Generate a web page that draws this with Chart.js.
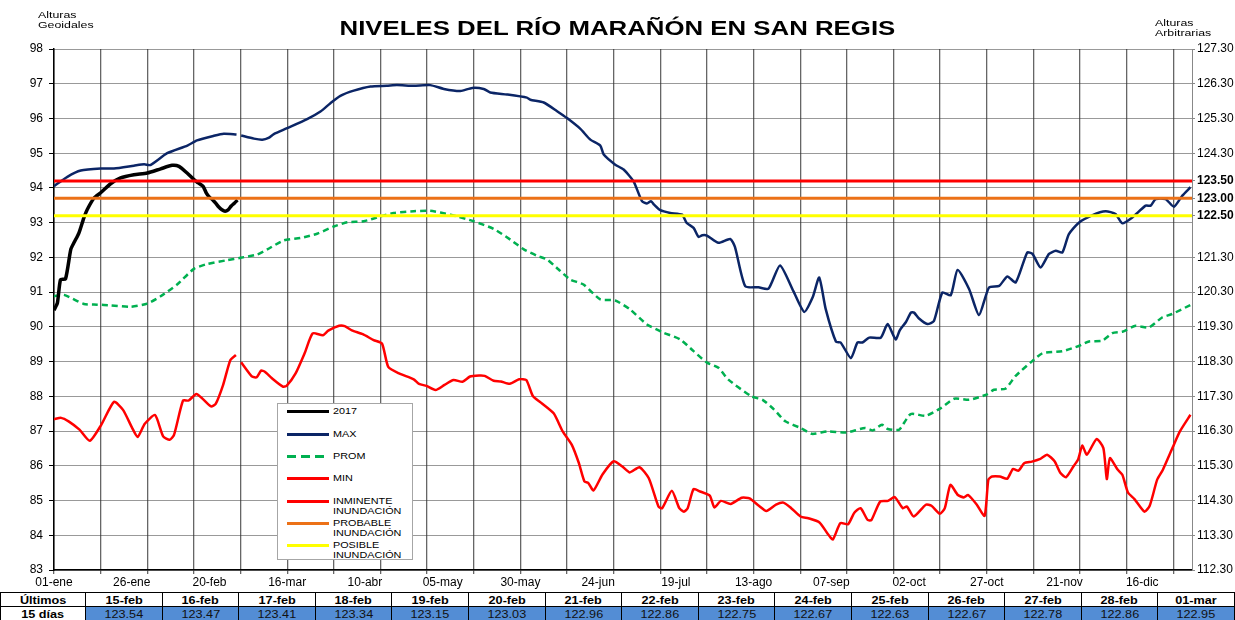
<!DOCTYPE html>
<html>
<head>
<meta charset="utf-8">
<script src="https://cdn.jsdelivr.net/npm/chart.js@4.4.0/dist/chart.umd.min.js"></script>
<style>
    body { margin: 0; background: #fff; font-family: "Liberation Sans", Arial, sans-serif; }
    #wrap { position: relative; width: 1235px; height: 620px; overflow: hidden; }
    #chart { position: absolute; left: 0; top: 0; }
    .note { position: absolute; font-size: 9.5px; line-height: 9.5px; transform: scaleX(1.3); transform-origin: left top; }
    #title { position: absolute; left: 0; top: 17px; width: 1235px; text-align: center; }
    #title span { display: inline-block; font-weight: bold; font-size: 20px; transform: scaleX(1.29); }
    #legend { position: absolute; left: 277px; top: 403px; width: 136px; height: 157px; background: #fff; border: 1px solid #a6a6a6; box-sizing: border-box; }
    .item { position: absolute; left: 9px; }
    .item i { position: absolute; left: 0; top: 0; width: 42px; height: 3px; }
    .item span { position: absolute; left: 46px; top: -3px; font-size: 9px; line-height: 9.5px; white-space: nowrap; transform: scaleX(1.2); transform-origin: left top; }
    table { position: absolute; left: 0; top: 592px; width: 1235px; border-collapse: collapse; table-layout: fixed; }
    td { border: 1px solid #000; height: 13px; padding: 0; text-align: center; font-size: 11px; line-height: 12px; overflow: hidden; }
    td span { display: inline-block; transform: scaleX(1.15); }
    tr.head td { font-weight: bold; }
    tr.vals td.v { background: #538dd5; color: #111; }
    tr.vals td.lab { font-weight: bold; }
</style>
</head>
<body>
<div id="wrap">
    <canvas id="chart" width="1235" height="592"></canvas>
    <div id="title"><span>NIVELES DEL RÍO MARAÑÓN EN SAN REGIS</span></div>
    <div class="note" style="left:38px; top:10px;">Alturas<br>Geoidales</div>
    <div class="note" style="left:1155px; top:18px;">Alturas<br>Arbitrarias</div>
    <div id="legend"></div>
    <table id="last-days"></table>
</div>
<script>
// x axis: day of year, labels every 25 days, grid every 15
const xLabels = ['01-ene', '26-ene', '20-feb', '16-mar', '10-abr', '05-may', '30-may', '24-jun',
    '19-jul', '13-ago', '07-sep', '02-oct', '27-oct', '21-nov', '16-dic'];
const labelStep = 25;
const gridStep = 15;

// 2017 levels (m, geoidal)
const days2017 = [0, 1.1, 2.1, 3.7, 5.4, 6.4, 8, 9.6, 10.7, 12.9, 15, 18.2, 21.4, 25.7, 30, 34.3, 38, 40.2, 42.8,
    45, 46, 47, 48, 49, 50, 51, 52, 53, 54, 55, 56, 57, 58, 59];
const levels2017 = [90.48, 90.69, 91.36, 91.38, 92.23, 92.42, 92.7, 93.14, 93.38, 93.71, 93.86, 94.12, 94.29, 94.38, 94.43, 94.55, 94.65, 94.62, 94.43,
    94.24, 94.17, 94.11, 94.04, 93.85, 93.73, 93.66, 93.56, 93.45, 93.37, 93.33, 93.37, 93.48, 93.56, 93.65];

// historical maximum
const maxDays = [0, 4.3, 8.6, 15, 19.3, 25.7, 29, 31, 36.4, 42.9, 46, 51.4, 54.6, 58.7, 59.5, 60.2, 64.3, 67, 69, 70.7,
    75, 81.4, 85.7, 88.9, 92.1, 96.4, 101.8, 107, 110.3, 115.7, 121, 125.4, 130.7, 134.5, 138.2, 140.3, 145.7,
    152.1, 153.2, 157.5, 161.8, 165, 169.3, 172.5, 175.7, 176.8, 180.5, 183.2, 186.4, 189.1, 190.7, 192, 193, 195,
    198.2, 202, 203.5, 205.7, 207.3, 208.5, 210, 213.7, 217.5, 219, 222.3, 226.6, 229.8, 233.5, 237.8, 241.3, 244,
    246.1, 248.2, 251.5, 253, 256.3, 258.4, 260, 262.2, 265.9, 268.1, 270.7, 272, 274, 275.6, 276.6, 278.2, 280.9,
    283, 285.7, 288.4, 290.6, 294.3, 297.5, 300.7, 304, 306.6, 309.3, 313, 314.7, 317.3, 320, 322.2, 324.3, 326.4,
    329.6, 334, 338.2, 341.4, 343.6, 346.8, 351.1, 352.7, 354.3, 357.5, 360.2, 362.9, 365.5];
const maxLevels = [94.05, 94.32, 94.5, 94.56, 94.56, 94.64, 94.68, 94.66, 95.0, 95.22, 95.37, 95.5, 95.56, 95.54, null, 95.51, 95.42, 95.39, 95.44, 95.55,
    95.72, 95.98, 96.2, 96.44, 96.65, 96.8, 96.92, 96.94, 96.96, 96.94, 96.96, 96.85, 96.79, 96.88, 96.85, 96.75, 96.69,
    96.6, 96.54, 96.46, 96.21, 96.01, 95.7, 95.39, 95.22, 94.96, 94.67, 94.53, 94.19, 93.62, 93.55, 93.62, 93.52, 93.36,
    93.28, 93.23, 92.99, 92.85, 92.59, 92.64, 92.63, 92.42, 92.53, 92.3, 91.17, 91.14, 91.1, 91.77, 91.03, 90.43, 90.85,
    91.42, 90.51, 89.57, 89.55, 89.1, 89.55, 89.55, 89.69, 89.69, 90.08, 89.64, 89.9, 90.14, 90.41, 90.41, 90.24, 90.08,
    90.17, 90.99, 90.91, 91.64, 91.09, 90.34, 91.13, 91.18, 91.45, 91.28, 92.14, 92.1, 91.71, 92.1, 92.19, 92.14, 92.67,
    93.0, 93.22, 93.33, 93.25, 92.98, 93.15, 93.49, 93.49, 93.68, 93.68, 93.46, 93.78, 94.02];

// historical average
const promDays = [0, 3.2, 9.6, 13.9, 18.2, 24.6, 30, 34.3, 39.6, 45, 49.3, 55.7, 60, 65.3, 68.6, 73.9, 79.3, 84.6, 90,
    94.3, 99.6, 105, 109.3, 115.7, 121, 127.5, 135, 141.4, 146.8, 151.1, 155.3, 158.6, 162.3, 166.1, 170.3, 175.7,
    180.5, 185.3, 190.7, 196.1, 201.4, 205.7, 210, 213.7, 216.9, 224.3, 227.9, 231.6, 235.2, 240.1, 243.8, 248.7,
    254.8, 260.9, 263.3, 266.3, 268.2, 271.8, 275.5, 280.4, 285.2, 289.5, 294.4, 299.9, 302.3, 306, 309.3, 314.7,
    317.9, 324.3, 329.6, 332.9, 337.1, 340.4, 343.6, 347.9, 352.1, 356.4, 359.6, 365.5];
const promLevels = [90.88, 90.92, 90.66, 90.64, 90.62, 90.58, 90.67, 90.88, 91.22, 91.67, 91.81, 91.92, 91.99, 92.08, 92.23, 92.49, 92.56, 92.68, 92.89,
    93.01, 93.04, 93.18, 93.28, 93.33, 93.34, 93.23, 93.04, 92.82, 92.51, 92.23, 92.05, 91.94, 91.65, 91.36, 91.22, 90.79,
    90.76, 90.5, 90.07, 89.83, 89.64, 89.3, 88.97, 88.82, 88.48, 88.0, 87.9, 87.62, 87.28, 87.09, 86.92, 86.99,
    86.96, 87.09, 87.02, 87.18, 87.06, 87.04, 87.49, 87.44, 87.66, 87.93, 87.9, 88.05, 88.19, 88.22, 88.59, 89.02,
    89.24, 89.3, 89.45, 89.58, 89.6, 89.82, 89.86, 90.03, 89.98, 90.27, 90.37, 90.63];

// historical minimum
const minDays = [0, 2.3, 4.7, 8.2, 11.5, 15.2, 19.3, 22.2, 25.2, 26.9, 29.2, 32.5, 35.1, 37.2, 38.6, 41.5, 43.3, 45.8,
    47.9, 50.5, 52, 54.4, 56.7, 58.5, 59.5, 60.2, 62, 63.7, 65.2, 66.6, 67.8, 70.1, 73.6, 74.8, 77.7, 80.6, 83.2, 86.5,
    88.2, 91.7, 93.5, 95.8, 99.3, 102.8, 105.5, 107.5, 111, 115.7, 117.4, 119.8, 122.7, 125.6, 128.5, 131.4, 133.8,
    136.7, 138.5, 141.4, 143.7, 146.6, 149.6, 151.9, 154, 156.6, 160.7, 163.6, 166.5, 168.8, 170.6, 171.8, 173.5,
    176.4, 180, 182.8, 185.2, 188.3, 191.3, 194.4, 195.6, 198.7, 201.1, 202.6, 203.8, 205.7, 207.8, 210.9, 212.4,
    214.5, 217.6, 221.2, 223.7, 226.7, 229.1, 232.2, 234.6, 237.1, 240.1, 242.6, 246.2, 248.7, 250.5, 252.9, 255.4,
    257.4, 259.4, 261.7, 262.9, 265.7, 268.2, 270.4, 273, 274.3, 276.5, 280.4, 282.2, 284.9, 286.5, 288.3, 290.7,
    292.6, 294, 296.8, 299.3, 300.5, 301.7, 304.2, 306.6, 308.4, 310.2, 312.1, 314.5, 317, 319.4, 321.8, 323.7,
    325.5, 328, 329.4, 330.7, 332.2, 335.3, 337.5, 338.6, 339.6, 342, 343.6, 345.4, 347.5, 350.7, 352.4, 354.8,
    356.6, 359.7, 362.1, 365.5];
const minLevels = [87.34, 87.38, 87.28, 87.04, 86.72, 87.18, 87.84, 87.61, 87.08, 86.83, 87.21, 87.46, 86.85, 86.75, 86.89, 87.88, 87.88, 88.07,
    87.92, 87.71, 87.78, 88.33, 89.04, 89.19, null, 88.98, 88.76, 88.57, 88.55, 88.74, 88.71, 88.52, 88.28, 88.3, 88.66, 89.24, 89.81, 89.76,
    89.89, 90.03, 90.02, 89.9, 89.79, 89.62, 89.52, 88.85, 88.66, 88.49, 88.36, 88.3, 88.18, 88.33, 88.47, 88.42, 88.57,
    88.6, 88.59, 88.45, 88.43, 88.36, 88.49, 88.47, 88.01, 87.82, 87.51, 86.99, 86.61, 86.08, 85.55, 85.51, 85.29,
    85.75, 86.13, 85.98, 85.81, 85.96, 85.64, 84.83, 84.78, 85.28, 84.78, 84.68, 84.78, 85.33, 85.26, 85.14, 84.8,
    84.99, 84.9, 85.08, 85.06, 84.85, 84.7, 84.88, 84.94, 84.78, 84.54, 84.49, 84.37, 84.06, 83.88, 84.35, 84.32,
    84.65, 84.78, 84.44, 84.44, 84.97, 84.99, 85.1, 84.78, 84.83, 84.54, 84.88, 84.85, 84.62, 84.78, 85.45, 85.16,
    85.09, 85.16, 84.88, 84.56, 85.6, 85.69, 85.69, 85.63, 85.91, 85.86, 86.08, 86.12, 86.19, 86.32, 86.13, 85.79,
    85.67, 86.0, 86.19, 86.58, 86.32, 86.77, 86.51, 85.62, 86.22, 85.9, 85.74, 85.23, 85.04, 84.68, 84.85, 85.6,
    85.88, 86.51, 86.99, 87.47];

// flood thresholds
const thresholdNames = ['INMINENTE INUNDACIÓN', 'PROBABLE INUNDACIÓN', 'POSIBLE INUNDACIÓN'];
const thresholdLevels = [94.2, 93.7, 93.2];

// right axis (arbitrary heights)
const rightTicks = [112.3, 113.3, 114.3, 115.3, 116.3, 117.3, 118.3, 119.3, 120.3, 121.3,
    122.5, 123.0, 123.5, 124.3, 125.3, 126.3, 127.3];
const boldRightTicks = [122.5, 123.0, 123.5];

// last 15 days table
const tableDates = ['15-feb', '16-feb', '17-feb', '18-feb', '19-feb', '20-feb', '21-feb', '22-feb',
    '23-feb', '24-feb', '25-feb', '26-feb', '27-feb', '28-feb', '01-mar'];
const tableValues = [123.54, 123.47, 123.41, 123.34, 123.15, 123.03, 122.96, 122.86,
    122.75, 122.67, 122.63, 122.67, 122.78, 122.86, 122.95];

const colors = {
    y2017: '#000000',
    max: '#0b2566',
    prom: '#00b050',
    min: '#ff0000',
    thresholds: ['#ff0000', '#ec7117', '#ffff00']
};

function points(days, levels) {
    return days.map((d, i) => ({ x: d, y: levels[i] }));
}

Chart.defaults.font.family = '"Liberation Sans", Arial, sans-serif';
Chart.defaults.color = '#000';

const baseLine = { pointRadius: 0, fill: false, spanGaps: false, tension: 0.2 };

const datasets = thresholdLevels.map((lvl, i) => ({
    label: thresholdNames[i],
    data: [{ x: 0, y: lvl }, { x: 366, y: lvl }],
    borderColor: colors.thresholds[i],
    borderWidth: 3,
    pointRadius: 0,
    tension: 0
}));
datasets.push(
    { ...baseLine, label: '2017', data: points(days2017, levels2017), borderColor: colors.y2017, borderWidth: 3.5 },
    { ...baseLine, label: 'MAX', data: points(maxDays, maxLevels), borderColor: colors.max, borderWidth: 2.5 },
    { ...baseLine, label: 'PROM', data: points(promDays, promLevels), borderColor: colors.prom, borderWidth: 2.5, borderDash: [6, 4] },
    { ...baseLine, label: 'MIN', data: points(minDays, minLevels), borderColor: colors.min, borderWidth: 2.5 }
);

const verticalGrid = (c) => (c.tick && c.tick.value % gridStep === 0) ? '#666' : 'rgba(0,0,0,0)';

new Chart(document.getElementById('chart'), {
    type: 'line',
    data: { datasets: datasets },
    options: {
        responsive: false,
        animation: false,
        layout: { padding: { top: 49, left: 0, right: 0, bottom: 0 } },
        plugins: { legend: { display: false }, tooltip: { enabled: false }, title: { display: false } },
        scales: {
            x: {
                type: 'linear',
                min: 0,
                max: 366,
                afterBuildTicks: (scale) => {
                    const ticks = [];
                    for (let v = 0; v <= 365; v += 5) {
                        if (v % gridStep === 0 || v % labelStep === 0) ticks.push({ value: v });
                    }
                    scale.ticks = ticks;
                },
                ticks: {
                    autoSkip: false,
                    maxRotation: 0,
                    padding: 1,
                    font: { size: 12 },
                    callback: (v) => (v % labelStep === 0 ? xLabels[v / labelStep] : '')
                },
                grid: { color: verticalGrid, tickColor: verticalGrid, lineWidth: 1.3, tickLength: 4 },
                border: { color: '#000', width: 1.5 },
                afterFit: (scale) => { scale.height = 22; }
            },
            y: {
                position: 'left',
                min: 83,
                max: 98,
                ticks: { stepSize: 1, padding: 6, font: { size: 12 } },
                grid: { color: '#333', lineWidth: 1, tickLength: 5, tickColor: '#000', tickBorderDash: [] },
                border: { color: '#000', width: 1.5, dash: [1, 1] },
                afterFit: (scale) => { scale.width = 54; }
            },
            y2: {
                position: 'right',
                min: 112.3,
                max: 127.3,
                afterBuildTicks: (scale) => { scale.ticks = rightTicks.map(v => ({ value: v })); },
                ticks: {
                    padding: 2,
                    font: (c) => ({ size: 12, weight: (c.tick && boldRightTicks.includes(c.tick.value)) ? 'bold' : 'normal' }),
                    callback: (v) => v.toFixed(2)
                },
                grid: { drawOnChartArea: false, tickLength: 3, tickColor: '#888' },
                border: { color: '#888', width: 1 },
                afterFit: (scale) => { scale.width = 43; }
            }
        }
    }
});

// Legend box
const legendItems = [
    { text: '2017', color: colors.y2017, top: 6 },
    { text: 'MAX', color: colors.max, top: 29 },
    { text: 'PROM', color: colors.prom, top: 51, dashed: true },
    { text: 'MIN', color: colors.min, top: 73 },
    { text: thresholdNames[0], color: colors.thresholds[0], top: 96 },
    { text: thresholdNames[1], color: colors.thresholds[1], top: 118 },
    { text: thresholdNames[2], color: colors.thresholds[2], top: 140 }
];
const legendBox = document.getElementById('legend');
legendItems.forEach(item => {
    const el = document.createElement('div');
    el.className = 'item';
    el.style.top = item.top + 'px';
    const words = item.text.split(' ');
    const label = words.length > 1 ? words[0] + '<br>' + words.slice(1).join(' ') : item.text;
    el.innerHTML = '<i></i><span>' + label + '</span>';
    const line = el.querySelector('i');
    if (item.dashed) {
        line.style.background = 'repeating-linear-gradient(to right, ' + item.color + ' 0 9px, transparent 9px 14px)';
    } else {
        line.style.background = item.color;
    }
    legendBox.appendChild(el);
});

// Last 15 days table
const table = document.getElementById('last-days');
let html = '<colgroup><col style="width:85px">' + tableDates.map(() => '<col>').join('') + '</colgroup>';
html += '<tr class="head"><td><span>Últimos</span></td>' + tableDates.map(d => '<td><span>' + d + '</span></td>').join('') + '</tr>';
html += '<tr class="vals"><td class="lab"><span>15 días</span></td>' + tableValues.map(v => '<td class="v"><span>' + v.toFixed(2) + '</span></td>').join('') + '</tr>';
table.innerHTML = html;
</script>
</body>
</html>
